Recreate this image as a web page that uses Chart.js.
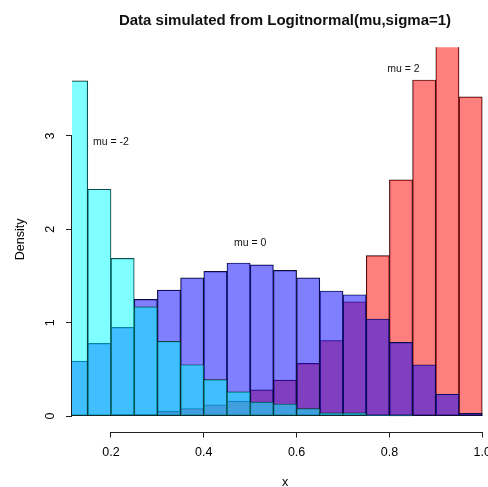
<!DOCTYPE html>
<html>
<head>
<meta charset="utf-8">
<script src="https://cdn.jsdelivr.net/npm/chart.js@4.4.1/dist/chart.umd.min.js"></script>
<style>
html, body { margin: 0; padding: 0; background: #fff; overflow: hidden; }
canvas { display: block; }
</style>
</head>
<body>
<canvas id="histChart" width="520" height="487"></canvas>
<script>
'use strict';

// bin midpoints, breaks every 0.05 from 0.10 to 1.00
const binMids = [0.125, 0.175, 0.225, 0.275, 0.325, 0.375, 0.425, 0.475, 0.525,
                 0.575, 0.625, 0.675, 0.725, 0.775, 0.825, 0.875, 0.925, 0.975];

// densities
const densMuMinus2 = [3.59, 2.43, 1.69, 1.17, 0.80, 0.55, 0.39, 0.26, 0.15,
                      0.13, 0.08, 0.035, 0.035, 0.005, 0.003, 0, 0, 0];
const densMu0 = [0.59, 0.78, 0.95, 1.25, 1.35, 1.48, 1.55, 1.64, 1.62,
                 1.56, 1.48, 1.34, 1.30, 1.04, 0.79, 0.55, 0.235, 0.03];
const densMu2 = [0, 0.01, 0.02, 0.02, 0.05, 0.08, 0.12, 0.16, 0.28,
                 0.385, 0.565, 0.81, 1.225, 1.72, 2.53, 3.60, 4.05, 3.42];

// text() notes, in data coordinates
const noteTexts = ['mu = -2', 'mu = 0', 'mu = 2'];
const noteX = [0.2, 0.5, 0.83];
const noteY = [2.93, 1.85, 3.72];

Chart.defaults.font.family = "'Liberation Sans', Arial, sans-serif";
Chart.defaults.color = '#000';

function toPoints(values) {
    return values.map(function (v, i) {
        return { x: binMids[i], y: v };
    });
}

function histSet(label, values, fill) {
    return {
        label: label,
        data: toPoints(values),
        backgroundColor: fill,
        borderColor: '#111',
        borderWidth: 0.55,
        borderSkipped: false,
        barPercentage: 1,
        categoryPercentage: 1,
        grouped: false,
        clip: 0
    };
}

// R draws the axis line only from first to last tick
const rAxisLines = {
    id: 'rAxisLines',
    afterDraw(chart) {
        const ctx = chart.ctx;
        const xs = chart.scales.x;
        const ys = chart.scales.y;
        const xt = xs.ticks;
        const yt = ys.ticks;
        ctx.save();
        ctx.strokeStyle = '#222';
        ctx.lineWidth = 1;
        ctx.beginPath();
        ctx.moveTo(xs.getPixelForValue(xt[0].value), Math.round(xs.top) + 0.5);
        ctx.lineTo(xs.getPixelForValue(xt[xt.length - 1].value), Math.round(xs.top) + 0.5);
        ctx.moveTo(Math.round(ys.right) - 0.5, ys.getPixelForValue(yt[0].value));
        ctx.lineTo(Math.round(ys.right) - 0.5, ys.getPixelForValue(yt[yt.length - 1].value));
        ctx.stroke();
        ctx.restore();
    }
};

const notes = {
    id: 'notes',
    afterDatasetsDraw(chart) {
        const ctx = chart.ctx;
        ctx.save();
        ctx.fillStyle = '#111';
        ctx.font = "10.5px 'Liberation Sans', Arial, sans-serif";
        ctx.textAlign = 'center';
        ctx.textBaseline = 'middle';
        noteTexts.forEach(function (t, i) {
            ctx.fillText(t, chart.scales.x.getPixelForValue(noteX[i]),
                chart.scales.y.getPixelForValue(noteY[i]));
        });
        ctx.restore();
    }
};

new Chart(document.getElementById('histChart'), {
    type: 'bar',
    data: {
        datasets: [
            histSet('mu = -2', densMuMinus2, 'rgba(0,255,255,0.5)'),
            histSet('mu = 0', densMu0, 'rgba(0,0,255,0.5)'),
            histSet('mu = 2', densMu2, 'rgba(255,0,0,0.5)')
        ]
    },
    options: {
        responsive: false,
        animation: false,
        layout: { padding: { left: 0, right: 22, top: 0, bottom: 0 } },
        scales: {
            x: {
                type: 'linear',
                min: 0.116,
                max: 1.034,
                offset: false,
                afterFit(scale) { scale.height = 55.5; },
                grid: { display: true, drawOnChartArea: false, offset: false,
                        tickLength: 6, color: '#222', lineWidth: 1 },
                border: { display: false },
                ticks: {
                    stepSize: 0.2,
                    includeBounds: false,
                    autoSkip: false,
                    maxRotation: 0,
                    padding: 8,
                    font: { size: 12.5 },
                    callback: function (v) { return v.toFixed(1); }
                },
                title: { display: true, text: 'x', font: { size: 12.5, lineHeight: 0.72 },
                         padding: { top: 0, bottom: 0 } }
            },
            y: {
                min: -0.165,
                max: 3.95,
                afterFit(scale) { scale.width = 72; },
                grid: { display: true, drawOnChartArea: false,
                        tickLength: 6, color: '#222', lineWidth: 1 },
                border: { display: false },
                ticks: {
                    stepSize: 1,
                    includeBounds: false,
                    autoSkip: false,
                    minRotation: 90,
                    maxRotation: 90,
                    crossAlign: 'center',
                    padding: 12,
                    font: { size: 12.5 }
                },
                title: { display: true, text: 'Density', font: { size: 12.5 },
                         padding: { top: 13.2, bottom: 0 } }
            }
        },
        plugins: {
            legend: { display: false },
            tooltip: { enabled: false },
            title: {
                display: true,
                fullSize: false,
                text: 'Data simulated from Logitnormal(mu,sigma=1)',
                font: { size: 15, weight: 'bold' },
                color: '#111',
                padding: { top: 11.5, bottom: 17.8 }
            }
        }
    },
    plugins: [rAxisLines, notes]
});
</script>
</body>
</html>
